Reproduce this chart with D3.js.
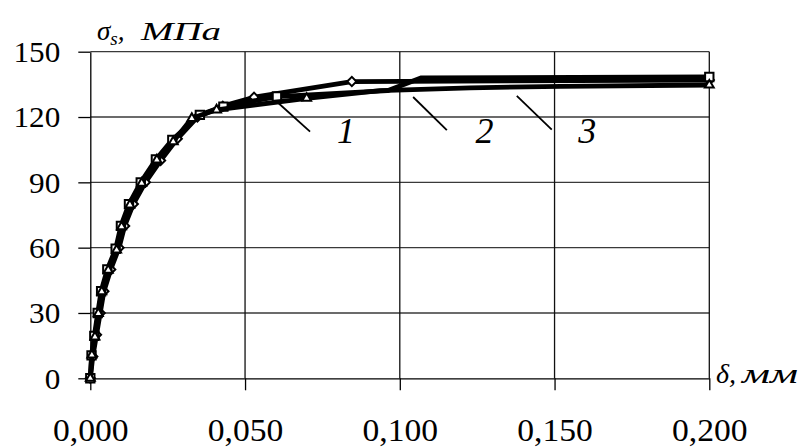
<!DOCTYPE html>
<html>
<head>
<meta charset="utf-8">
<script src="https://cdn.jsdelivr.net/npm/d3@7"></script>
<style>
  html, body { margin: 0; padding: 0; background: #fff; }
  svg { display: block; }
  svg text { font-family: "Liberation Serif", serif; }
</style>
</head>
<body>
<svg id="chart" width="803" height="447"></svg>
<script>
// Flow stress σs (MPa) against deformation δ (mm) for three specimens.
// Marker flags: 1 = point drawn with a marker, 0 = line vertex only.
const deltaDiamond = [0, 0.0008, 0.0020, 0.0032, 0.0044, 0.0066, 0.0093, 0.0111, 0.0139, 0.0178, 0.0227, 0.0281, 0.0346, 0.0428, 0.0529, 0.0845, 0.2000];
const sigmaDiamond = [0, 10, 20, 30, 40, 50, 60, 70, 80, 90, 100, 110, 120, 125, 129.1, 136.3, 137.0];
const markDiamond  = [1, 1, 1, 1, 1, 1, 1, 1, 1, 1, 1, 1, 1, 1, 1, 1, 1];

const deltaSquare = [0, 0.0004, 0.0013, 0.0024, 0.0035, 0.0055, 0.0082, 0.0099, 0.0125, 0.0163, 0.0212, 0.0265, 0.0354, 0.0430, 0.0603, 0.0960, 0.1070, 0.2000];
const sigmaSquare = [0, 10.5, 19.5, 30, 40, 50, 59.5, 70, 80, 90, 100.5, 109.5, 121, 124.8, 129.4, 132.1, 138.0, 138.4];
const markSquare  = [1, 1, 1, 1, 1, 1, 1, 1, 1, 1, 1, 1, 1, 1, 1, 0, 0, 1];

const deltaTriangle = [0, 0.0005, 0.0015, 0.0026, 0.0037, 0.0058, 0.0085, 0.0101, 0.0128, 0.0166, 0.0215, 0.0268, 0.0328, 0.0408, 0.0699, 0.0936, 0.1227, 0.1520, 0.2000];
const sigmaTriangle = [0, 10.7, 19, 29.8, 39.8, 49.7, 58.9, 69.6, 79.6, 89.6, 100.3, 108.7, 119.4, 123.3, 128.6, 132.1, 133.4, 134.1, 134.7];
const markTriangle  = [1, 1, 1, 1, 1, 1, 1, 1, 1, 1, 1, 1, 1, 1, 1, 0, 0, 0, 1];

const yTicks = [0, 30, 60, 90, 120, 150];
const xTicks = [0, 0.05, 0.10, 0.15, 0.20];
const xTickLabels = ["0,000", "0,050", "0,100", "0,150", "0,200"];
const curveNames = ["1", "2", "3"];

const svg = d3.select("#chart");
const serif = '"Liberation Serif", serif';

const x = d3.scaleLinear().domain([0, 0.2]).range([90.3, 709.3]);
const y = d3.scaleLinear().domain([0, 150]).range([378.3, 51.7]);

// grid
const grid = svg.append("g");
grid.selectAll("line.h").data(yTicks.filter(d => d > 0)).join("line")
  .attr("x1", x(0)).attr("x2", x(0.2))
  .attr("y1", d => y(d)).attr("y2", d => y(d))
  .attr("stroke", "#3a3a3a").attr("stroke-width", 1.3);
grid.selectAll("line.v").data(xTicks.filter(d => d > 0)).join("line")
  .attr("x1", d => x(d)).attr("x2", d => x(d))
  .attr("y1", y(150)).attr("y2", y(0))
  .attr("stroke", "#111").attr("stroke-width", 1.3);

// axes
const yAxis = svg.append("g").attr("transform", `translate(${x(0)},0)`)
  .call(d3.axisLeft(y).tickValues(yTicks).tickSize(12).tickSizeOuter(0).tickFormat(d3.format("d")));
const xAxis = svg.append("g").attr("transform", `translate(0,${y(0)})`)
  .call(d3.axisBottom(x).tickValues(xTicks).tickSize(12).tickSizeOuter(0).tickFormat((d, i) => xTickLabels[i]));

[yAxis, xAxis].forEach(a => {
  a.attr("font-family", null);
  a.select(".domain").attr("stroke", "#000").attr("stroke-width", 1.3);
  a.selectAll(".tick line").attr("stroke", "#000").attr("stroke-width", 1.3);
  a.selectAll(".tick text").attr("fill", "#000").style("font-family", serif);
});
yAxis.selectAll(".tick text")
  .style("font-size", "30px").attr("x", 0).attr("dy", "0.33em")
  .attr("transform", "translate(-30,0) scale(1.04,1)");
xAxis.selectAll(".tick text")
  .style("font-size", "32px").attr("y", 62.5).attr("dy", 0)
  .attr("transform", "scale(1.05,1)");

// curves
const line = d3.line().x(d => x(d[0])).y(d => y(d[1]));

function drawSeries(deltas, sigmas, marks, symbol) {
  const pts = deltas.map((d, i) => [d, sigmas[i], marks[i]]);
  const g = svg.append("g");
  g.append("path").datum(pts).attr("d", line)
    .attr("fill", "none").attr("stroke", "#000")
    .attr("stroke-width", 4.8).attr("stroke-linejoin", "round");
  g.selectAll("path.m").data(pts.filter(p => p[2] === 1)).join("path")
    .attr("class", "m")
    .attr("d", symbol.path)
    .attr("transform", p => `translate(${x(p[0])},${y(p[1])})${symbol.rotate}`)
    .attr("fill", "#fff").attr("stroke", "#000").attr("stroke-width", 2);
}

drawSeries(deltaDiamond, sigmaDiamond, markDiamond,
  { path: d3.symbol(d3.symbolSquare, 42)(), rotate: " rotate(45)" });
drawSeries(deltaSquare, sigmaSquare, markSquare,
  { path: d3.symbol(d3.symbolSquare, 70)(), rotate: "" });
drawSeries(deltaTriangle, sigmaTriangle, markTriangle,
  { path: d3.symbol(d3.symbolTriangle, 34)(), rotate: "" });

// curve labels with leader lines (data coordinates)
const leaders = [
  [[0.0603, 127.0], [0.0710, 113.3]],
  [[0.1043, 129.2], [0.1152, 114.0]],
  [[0.1378, 129.7], [0.1491, 114.2]]
];
const labelAt = [[0.0826, 107.9], [0.1274, 107.9], [0.1606, 107.9]];
svg.append("g").selectAll("line").data(leaders).join("line")
  .attr("x1", d => x(d[0][0])).attr("y1", d => y(d[0][1]))
  .attr("x2", d => x(d[1][0])).attr("y2", d => y(d[1][1]))
  .attr("stroke", "#000").attr("stroke-width", 1.8);
svg.append("g").selectAll("text").data(curveNames).join("text")
  .attr("x", (d, i) => x(labelAt[i][0])).attr("y", (d, i) => y(labelAt[i][1]))
  .attr("text-anchor", "middle")
  .style("font-family", serif).style("font-style", "italic").style("font-size", "36px")
  .text(d => d);

// axis titles
const yTitle = svg.append("text").attr("x", 97).attr("y", 40)
  .style("font-family", serif).style("font-style", "italic").style("font-size", "27px");
yTitle.append("tspan").text("σ");
yTitle.append("tspan").style("font-size", "19px").attr("dy", 5).text("s");
yTitle.append("tspan").attr("dy", -5).text(",");
svg.append("text").attr("x", 141).attr("y", 40)
  .style("font-family", serif).style("font-style", "italic").style("font-size", "25px")
  .attr("textLength", 80).attr("lengthAdjust", "spacingAndGlyphs")
  .text("МПа");

svg.append("text").attr("x", 716).attr("y", 383)
  .style("font-family", serif).style("font-style", "italic").style("font-size", "28px")
  .text("δ,");
svg.append("text").attr("x", 742).attr("y", 383)
  .style("font-family", serif).style("font-style", "italic").style("font-size", "27px")
  .attr("textLength", 56).attr("lengthAdjust", "spacingAndGlyphs")
  .text("мм");
</script>
</body>
</html>
